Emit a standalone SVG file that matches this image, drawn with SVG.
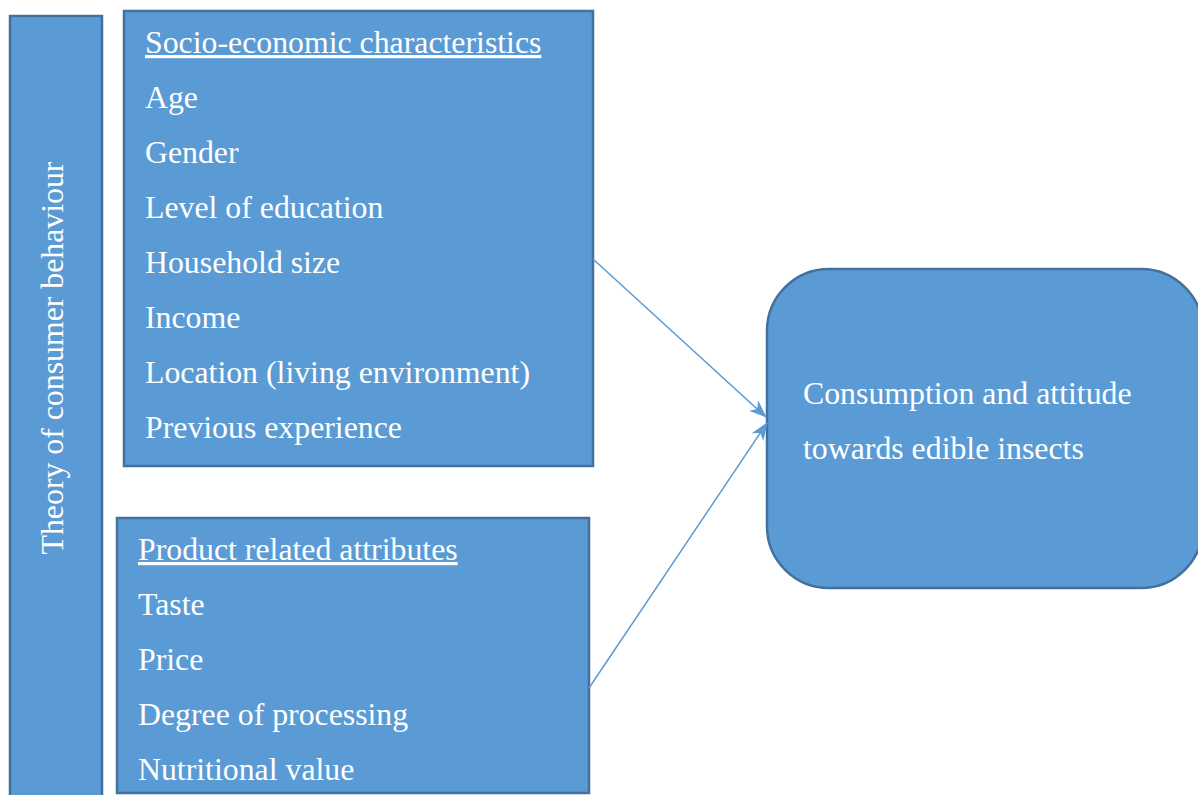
<svg xmlns="http://www.w3.org/2000/svg" width="1198" height="795" viewBox="0 0 1198 795">
<defs>
<style>
.box{fill:#5B9BD5;stroke:#41719C;stroke-width:2.5}
.t{font-family:"Liberation Serif","Times New Roman",serif;font-size:31.8px;fill:#fff}
.u{text-decoration:underline}
.c{stroke:#5B9BD5;stroke-width:1.5;fill:none}
</style>
<marker id="ah" viewBox="0 0 18 14" refX="17" refY="7" markerWidth="18" markerHeight="14" markerUnits="userSpaceOnUse" orient="auto">
<path d="M0,0 L18,7 L0,14 L5,7 Z" fill="#5B9BD5"/>
</marker>
</defs>
<rect width="1198" height="795" fill="#fff"/>
<g id="theory">
<rect class="box" x="10" y="16" width="92" height="782"/>
<text class="t" transform="translate(63,358) rotate(-90)" text-anchor="middle">Theory of consumer behaviour</text>
</g>
<g id="socio">
<rect class="box" x="124" y="11" width="469" height="455"/>
<text class="t u" x="145" y="53">Socio-economic characteristics</text>
<text class="t" x="145" y="108">Age</text>
<text class="t" x="145" y="163">Gender</text>
<text class="t" x="145" y="218">Level of education</text>
<text class="t" x="145" y="273">Household size</text>
<text class="t" x="145" y="328">Income</text>
<text class="t" x="145" y="383">Location (living environment)</text>
<text class="t" x="145" y="438">Previous experience</text>
</g>
<g id="product">
<rect class="box" x="117" y="518" width="472" height="275"/>
<text class="t u" x="138" y="560">Product related attributes</text>
<text class="t" x="138" y="615">Taste</text>
<text class="t" x="138" y="670">Price</text>
<text class="t" x="138" y="725">Degree of processing</text>
<text class="t" x="138" y="780">Nutritional value</text>
</g>
<g id="outcome">
<rect class="box" x="767" y="269" width="436" height="319" rx="62" ry="62"/>
<text class="t" x="803" y="404">Consumption and attitude</text>
<text class="t" x="803" y="459">towards edible insects</text>
</g>
<g id="connectors">
<line class="c" x1="593" y1="259" x2="766" y2="417" marker-end="url(#ah)"/>
<line class="c" x1="589" y1="688" x2="767" y2="423" marker-end="url(#ah)"/>
</g>
</svg>
